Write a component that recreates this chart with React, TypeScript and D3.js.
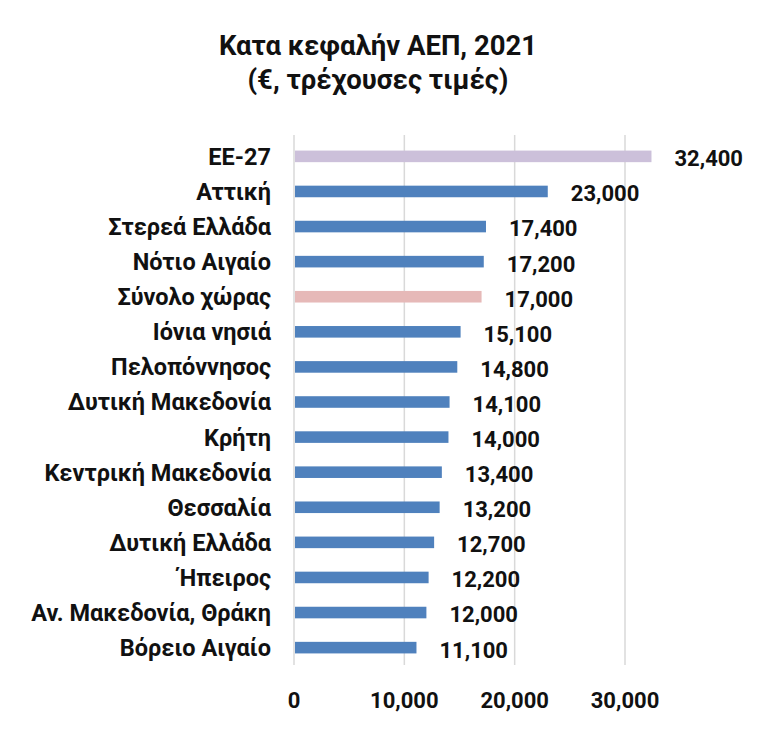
import React, { useEffect, useRef } from 'react';
import * as d3 from 'd3';

const categories = [
  'ΕΕ-27',
  'Αττική',
  'Στερεά Ελλάδα',
  'Νότιο Αιγαίο',
  'Σύνολο χώρας',
  'Ιόνια νησιά',
  'Πελοπόννησος',
  'Δυτική Μακεδονία',
  'Κρήτη',
  'Κεντρική Μακεδονία',
  'Θεσσαλία',
  'Δυτική Ελλάδα',
  'Ήπειρος',
  'Αν. Μακεδονία, Θράκη',
  'Βόρειο Αιγαίο',
];

const values = [32400, 23000, 17400, 17200, 17000, 15100, 14800, 14100, 14000, 13400, 13200, 12700, 12200, 12000, 11100];

const xTicks = [0, 10000, 20000, 30000];

const titleLines = ['Κατα κεφαλήν ΑΕΠ, 2021', '(€, τρέχουσες τιμές)'];

const colorFor = (cat: string) => {
  if (cat === 'ΕΕ-27') return '#ccc0da';
  if (cat === 'Σύνολο χώρας') return '#e6b9b8';
  return '#4f81bd';
};

const FONT = 'Roboto, "Open Sans", sans-serif';

export default function App() {
  const svgRef = useRef<SVGSVGElement>(null);

  useEffect(() => {
    if (!svgRef.current) return;
    const svg = d3.select(svgRef.current);
    svg.selectAll('*').remove();

    const width = 770;
    const height = 737;
    const margin = { top: 139, left: 294, right: 135, bottom: 72 };

    svg.attr('width', width).attr('height', height);

    svg.append('rect').attr('width', width).attr('height', height).attr('fill', '#ffffff');

    // Title
    svg.selectAll('.title')
      .data(titleLines)
      .enter()
      .append('text')
      .attr('class', 'title')
      .attr('x', 378)
      .attr('y', (d, i) => 55 + i * 34)
      .attr('text-anchor', 'middle')
      .attr('font-family', FONT)
      .attr('font-weight', 'bold')
      .attr('font-size', '27.5px')
      .attr('fill', '#111')
      .text(d => d);

    const xScale = d3.scaleLinear()
      .domain([0, 30000])
      .range([margin.left, margin.left + 331]);

    const yScale = d3.scaleBand()
      .domain(categories)
      .range([margin.top, height - margin.bottom])
      .paddingInner(0.67)
      .paddingOuter(0.33);

    // Gridlines
    svg.selectAll('.grid')
      .data(xTicks)
      .enter()
      .append('line')
      .attr('class', 'grid')
      .attr('x1', d => xScale(d))
      .attr('x2', d => xScale(d))
      .attr('y1', margin.top - 4)
      .attr('y2', height - margin.bottom)
      .attr('stroke', '#d9d9d9')
      .attr('stroke-width', 1.5);

    // Bars
    svg.selectAll('.bar')
      .data(categories)
      .enter()
      .append('rect')
      .attr('class', 'bar')
      .attr('x', xScale(0) + 1)
      .attr('y', d => yScale(d)!)
      .attr('width', (d, i) => xScale(values[i]) - xScale(0) - 1)
      .attr('height', yScale.bandwidth())
      .attr('fill', d => colorFor(d));

    // Category labels
    svg.selectAll('.cat')
      .data(categories)
      .enter()
      .append('text')
      .attr('class', 'cat')
      .attr('x', 271)
      .attr('y', d => yScale(d)! + yScale.bandwidth() / 2)
      .attr('dy', '0.36em')
      .attr('text-anchor', 'end')
      .attr('font-family', FONT)
      .attr('font-weight', 'bold')
      .attr('font-size', '23.5px')
      .attr('fill', '#111')
      .text(d => d);

    // Value labels
    svg.selectAll('.val')
      .data(categories)
      .enter()
      .append('text')
      .attr('class', 'val')
      .attr('x', (d, i) => xScale(values[i]) + 23)
      .attr('y', d => yScale(d)! + yScale.bandwidth() / 2 + 2)
      .attr('dy', '0.36em')
      .attr('font-family', FONT)
      .attr('font-weight', 'bold')
      .attr('font-size', '22px')
      .attr('fill', '#111')
      .text((d, i) => d3.format(',')(values[i]));

    // X axis tick labels
    svg.selectAll('.xtick')
      .data(xTicks)
      .enter()
      .append('text')
      .attr('class', 'xtick')
      .attr('x', d => xScale(d))
      .attr('y', 700)
      .attr('dy', '0.36em')
      .attr('text-anchor', 'middle')
      .attr('font-family', FONT)
      .attr('font-weight', 'bold')
      .attr('font-size', '22px')
      .attr('fill', '#111')
      .text(d => d3.format(',')(d));
  }, []);

  return (
    <div style={{ margin: -8 }}>
      <svg ref={svgRef} style={{ display: 'block' }}></svg>
    </div>
  );
}
